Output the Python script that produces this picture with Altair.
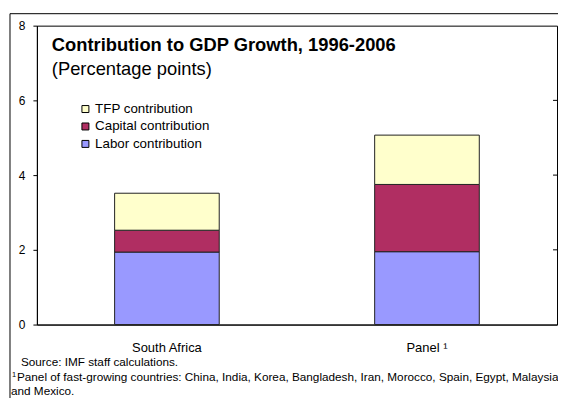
import altair as alt
import pandas as pd

# ---- data ----
categories = ["South Africa", "Panel \u00b9"]
labor = [1.94, 1.95]
capital = [0.585, 1.80]
tfp = [0.99, 1.32]
series_names = ["TFP contribution", "Capital contribution", "Labor contribution"]
series_colors = ["#FFFFCC", "#B02E62", "#9999FF"]
stack_order = {"Labor contribution": 0, "Capital contribution": 1, "TFP contribution": 2}
y_ticks = [0, 2, 4, 6, 8]
right_ticks = [2, 4, 6]

rows = []
for i, c in enumerate(categories):
    rows.append({"cat": c, "series": "Labor contribution", "value": labor[i]})
    rows.append({"cat": c, "series": "Capital contribution", "value": capital[i]})
    rows.append({"cat": c, "series": "TFP contribution", "value": tfp[i]})
df = pd.DataFrame(rows)
df["ord"] = df["series"].map(stack_order)

FONT = "Liberation Sans"
W, H = 522, 300

xscale = alt.Scale(domain=categories, paddingInner=0, paddingOuter=0)
yscale = alt.Scale(domain=[0, 8], nice=False)

bars = alt.Chart(df).mark_bar(size=105, stroke="#222222", strokeWidth=1).encode(
    x=alt.X("cat:N", scale=xscale, sort=categories,
            axis=alt.Axis(title=None, labelAngle=0, ticks=False, tickSize=0,
                          domainColor="black", labelFontSize=13, labelColor="black",
                          labelFont=FONT, labelPadding=17)),
    y=alt.Y("sum(value):Q", scale=yscale, stack="zero",
            axis=alt.Axis(title=None, values=y_ticks, grid=False, domainColor="black",
                          tickColor="black", tickSize=4, labelPadding=8,
                          labelFontSize=12, labelColor="black", labelFont=FONT)),
    color=alt.Color("series:N",
                    scale=alt.Scale(domain=series_names, range=series_colors),
                    legend=alt.Legend(title=None, orient="none", legendX=42, legendY=77,
                                      symbolType="square", symbolSize=49,
                                      symbolStrokeColor="black", symbolStrokeWidth=1,
                                      labelFontSize=13.4, labelFont=FONT, labelColor="black",
                                      labelOffset=3, rowPadding=2.5, padding=0)),
    order=alt.Order("ord:Q", sort="ascending"),
)

rt = pd.DataFrame({"v": right_ticks})
right = alt.Chart(rt).mark_rule(color="black", strokeWidth=1).encode(
    y=alt.Y("v:Q", scale=yscale),
    x=alt.value(W - 4), x2=alt.value(W),
)

one = alt.Data(values=[{}])

def txt(s, x, y, size, bold=False):
    return alt.Chart(one).mark_text(
        text=s, align="left", baseline="alphabetic", font=FONT, fontSize=size,
        fontWeight="bold" if bold else "normal", color="black",
    ).encode(x=alt.value(x), y=alt.value(y))

title = txt("Contribution to GDP Growth, 1996-2006", 15, 25, 18.4, bold=True)
subtitle = txt("(Percentage points)", 15, 50, 18.4)
src = txt("Source: IMF staff calculations.", -16, 342, 11.8)
fn_mark = txt("1", -25, 353, 7.5)
fn1 = txt("Panel of fast-growing countries: China, India, Korea, Bangladesh, Iran, Morocco, Spain, Egypt, Malaysia",
          -20, 357, 11.8)
fn2 = txt("and Mexico.", -26, 371, 11.8)

frame_top = alt.Chart(one).mark_rule(color="black", strokeWidth=1).encode(
    x=alt.value(-27), x2=alt.value(535), y=alt.value(-12))
frame_left = alt.Chart(one).mark_rule(color="black", strokeWidth=1).encode(
    x=alt.value(-27), y=alt.value(-12), y2=alt.value(395))

chart = alt.layer(
    bars, right, title, subtitle, src, fn_mark, fn1, fn2, frame_top, frame_left
).properties(
    width=W, height=H,
    autosize=alt.AutoSizeParams(type="none"),
    padding={"left": 29, "top": 17, "right": 1, "bottom": 73},
    background="white",
).configure_view(stroke="black", strokeWidth=1)

chart.save("out.html", embed_options={"renderer": "svg", "actions": False})
